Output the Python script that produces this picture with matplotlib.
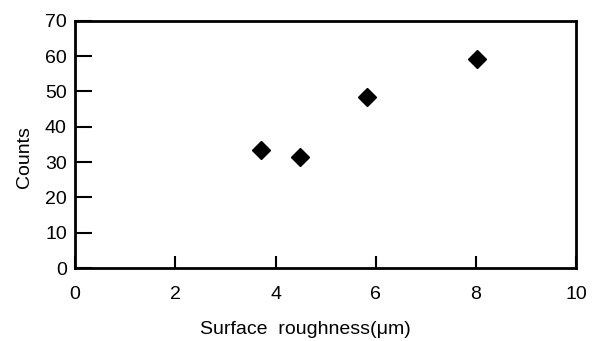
import matplotlib
matplotlib.use('Agg')
import matplotlib.pyplot as plt

plt.rcParams['font.family'] = ['Liberation Sans', 'DejaVu Sans']

roughness = [3.71, 4.49, 5.82, 8.02]
counts = [33.4, 31.4, 48.5, 59.2]
xticks = [0, 2, 4, 6, 8, 10]
yticks = [0, 10, 20, 30, 40, 50, 60, 70]

fig = plt.figure(figsize=(5.92, 3.41), dpi=100)
ax = fig.add_axes([0.127, 0.214, 0.846, 0.725])
ax.plot(roughness, counts, linestyle='none', marker='D', markersize=9,
        color='black')

ax.set_xlim(0, 10)
ax.set_ylim(0, 70)
ax.set_xticks(xticks)
ax.set_yticks(yticks)
for s in ax.spines.values():
    s.set_linewidth(2)
ax.tick_params(axis='x', direction='in', length=9, width=1.5, pad=13, labelsize=14)
ax.tick_params(axis='y', direction='in', length=12, width=1.5, pad=6, labelsize=14)

ax.set_xlabel('Surface  roughness(\u03bcm)', fontsize=14)
ax.xaxis.set_label_coords(0.46, -0.215)
ax.set_ylabel('Counts', fontsize=14)
ax.yaxis.set_label_coords(-0.085, 0.45)

plt.savefig('out.png', dpi=100)
